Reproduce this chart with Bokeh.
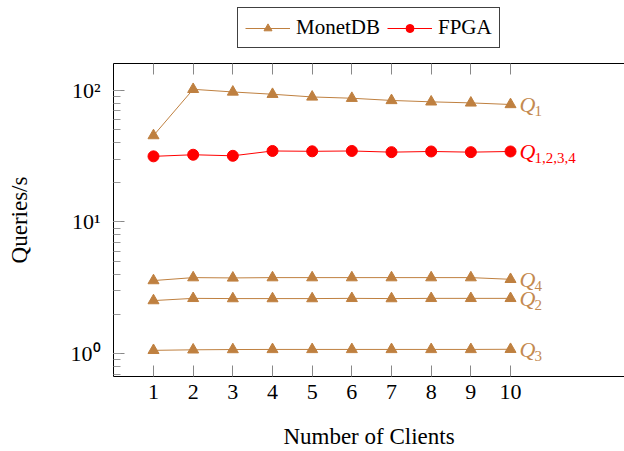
from bokeh.plotting import figure
from bokeh.layouts import column
from bokeh.models import (Range1d, FixedTicker, LinearAxis, Legend, LegendItem,
                          ColumnDataSource, CustomJSTickFormatter)
from bokeh.core.properties import value
from bokeh.embed import file_html
from bokeh.resources import INLINE

# ---- data ----
clients = [1, 2, 3, 4, 5, 6, 7, 8, 9, 10]
monet_q1 = [45.3, 101.7, 97.1, 93.3, 89.0, 87.0, 83.7, 81.7, 80.2, 78.0]
monet_q4 = [3.59, 3.78, 3.76, 3.78, 3.78, 3.78, 3.78, 3.78, 3.78, 3.67]
monet_q2 = [2.53, 2.63, 2.62, 2.62, 2.62, 2.63, 2.62, 2.63, 2.63, 2.63]
monet_q3 = [1.06, 1.07, 1.075, 1.077, 1.077, 1.077, 1.077, 1.077, 1.077, 1.08]
fpga = [31.5, 32.4, 31.8, 34.6, 34.4, 34.6, 33.9, 34.3, 33.9, 34.3]

series_names = ["MonetDB", "FPGA"]
label_subs = ["1", "4", "2", "3", "1,2,3,4"]
y_tick_labels = {1: "10\u2070", 10: "10\u00b9", 100: "10\u00b2"}

BROWN = "#bf8040"
RED = "#ff0000"
SERIF = "Liberation Serif"

# ---------------- main chart ----------------
p = figure(width=624, height=396, y_axis_type="log",
           x_range=Range1d(-0.008, 12.873), y_range=Range1d(0.671, 159.7),
           output_backend="svg", toolbar_location=None,
           min_border_left=113, min_border_right=0, min_border_top=8, min_border_bottom=73)
p.grid.visible = False
p.outline_line_color = None
p.background_fill_color = "white"

monet_sources = []
for ys in [monet_q1, monet_q4, monet_q2, monet_q3]:
    src = ColumnDataSource(dict(x=clients, y=ys))
    monet_sources.append(src)
    p.line("x", "y", source=src, line_color=BROWN, line_width=1)
    p.scatter("x", "y", source=src, marker="triangle", size=11,
              fill_color=BROWN, line_color=BROWN)

fsrc = ColumnDataSource(dict(x=clients, y=fpga))
p.line("x", "y", source=fsrc, line_color=RED, line_width=1)
p.scatter("x", "y", source=fsrc, marker="circle", size=11, fill_color=RED, line_color=RED)

# series labels at the end of each line
lab_y = [monet_q1[-1], monet_q4[-1], monet_q2[-1], monet_q3[-1], fpga[-1]]
lab_col = ["#c48a50", "#c48a50", "#c48a50", "#c48a50", RED]
lsrc = ColumnDataSource(dict(x=[clients[-1]] * 5, y=lab_y, q=["Q"] * 5, sub=label_subs, c=lab_col))
p.text("x", "y", text="q", source=lsrc, text_color="c", text_font=value(SERIF),
       text_font_style="italic", text_font_size=value("22px"), text_baseline="middle",
       text_align="left", x_offset=9, y_offset=0)
p.text("x", "y", text="sub", source=lsrc, text_color="c", text_font=value(SERIF),
       text_font_size=value("15px"), text_baseline="middle", text_align="left",
       x_offset=24, y_offset=7)

# axes styling
xa = p.xaxis[0]
xa.ticker = FixedTicker(ticks=clients)
xa.axis_label = "Number of Clients"
ya = p.yaxis[0]
ya.axis_label = "Queries/s"
ya.major_label_overrides = y_tick_labels
for ax in (xa, ya):
    ax.axis_line_color = "black"
    ax.axis_line_width = 1
    ax.major_tick_in = 11
    ax.major_tick_out = 0
    ax.minor_tick_in = 7
    ax.minor_tick_out = 0
    ax.major_tick_line_color = "#888888"
    ax.minor_tick_line_color = "#999999"
    ax.major_label_text_font = SERIF
    ax.major_label_text_font_size = "22px"
    ax.major_label_text_color = "black"
    ax.axis_label_text_font = SERIF
    ax.axis_label_text_font_size = "23px"
    ax.axis_label_text_font_style = "normal"
    ax.axis_label_text_color = "black"
xa.major_label_standoff = 8
xa.axis_label_standoff = 22
ya.major_label_standoff = 13
ya.axis_label_standoff = 36

blank = CustomJSTickFormatter(code="return '';")
top = LinearAxis(ticker=FixedTicker(ticks=clients), formatter=blank,
                 major_label_text_font_size="1px",
                 major_tick_in=11, major_tick_out=0, minor_tick_in=0, minor_tick_out=0,
                 major_label_standoff=0, axis_line_color="black",
                 major_tick_line_color="#888888")
p.add_layout(top, "above")

# ---------------- legend strip above the chart ----------------
# (the strip's frame is aligned with the chart's frame by the column layout;
#  its ranges are chosen so the series themselves are outside the view)
pl = figure(width=624, height=55, x_range=Range1d(-100, -99), y_range=Range1d(-100, -99),
            output_backend="svg", toolbar_location=None, min_border=0,
            x_axis_location=None, y_axis_location=None)
pl.grid.visible = False
pl.outline_line_color = None
msrc = monet_sources[0]
ml = pl.line("x", "y", source=msrc, line_color=BROWN, line_width=1)
ms = pl.scatter("x", "y", source=msrc, marker="triangle", size=11, fill_color=BROWN, line_color=BROWN)
fl = pl.line("x", "y", source=fsrc, line_color=RED, line_width=1)
fs = pl.scatter("x", "y", source=fsrc, marker="circle", size=11, fill_color=RED, line_color=RED)

legend = Legend(items=[LegendItem(label=series_names[0], renderers=[ml, ms]),
                       LegendItem(label=series_names[1], renderers=[fl, fs])],
                orientation="horizontal", location=(124, 7),
                label_text_font=SERIF, label_text_font_size="21px", label_text_color="black",
                border_line_color="#404040", border_line_width=1, border_line_alpha=1,
                padding=7, margin=0, spacing=7, glyph_width=45, glyph_height=20,
                label_standoff=6, label_height=20)
pl.add_layout(legend)

layout = column(pl, p, spacing=0)
open("out.html", "w").write(file_html(layout, INLINE))
